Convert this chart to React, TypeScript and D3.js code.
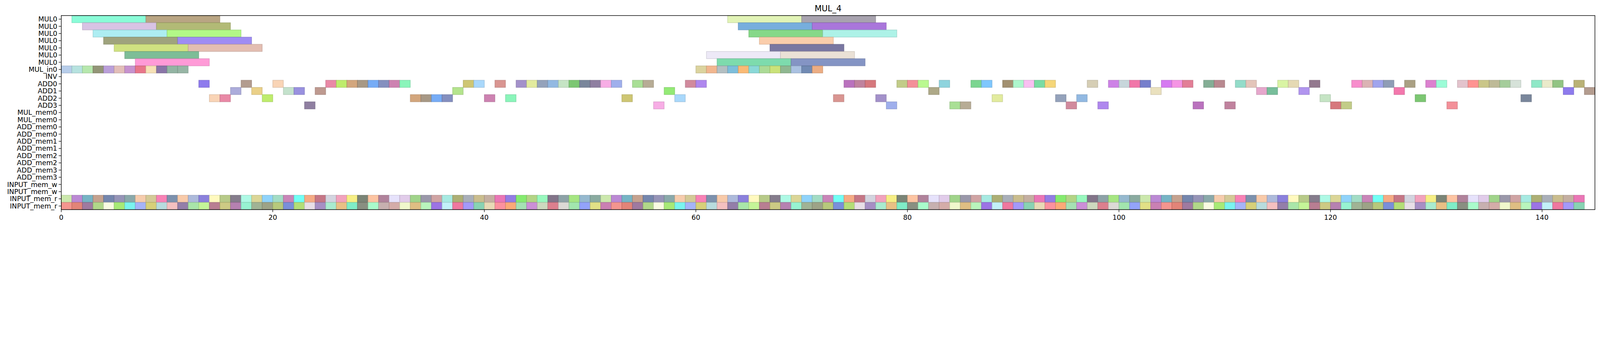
import * as d3 from "d3";

const rowLabels = [
  "MUL0", "MUL0", "MUL0", "MUL0", "MUL0", "MUL0", "MUL0",
  "MUL_in0", "INV", "ADD0", "ADD1", "ADD2", "ADD3",
  "MUL_mem0", "MUL_mem0", "ADD_mem0", "ADD_mem0", "ADD_mem1", "ADD_mem1",
  "ADD_mem2", "ADD_mem2", "ADD_mem3", "ADD_mem3",
  "INPUT_mem_w", "INPUT_mem_w", "INPUT_mem_r", "INPUT_mem_r",
];

// MUL0 ops: start times per row, each op lasts 7 cycles
const mulDuration = 7;
const mulStarts = [
  [1, 8, 63, 70],
  [2, 9, 64, 71],
  [3, 10, 65, 72],
  [4, 11, 66],
  [5, 12, 67],
  [6, 61, 68],
  [7, 62, 69],
];
const mulColors = [
  ["#80fcd5", "#b39d78", "#dff3b0", "#a19ba8"],
  ["#d5bee2", "#abb46a", "#6ba7da", "#a26ad8"],
  ["#a6ebf1", "#abf77d", "#7cd57e", "#a6f1e5"],
  ["#979b72", "#9682f2", "#fac9a4"],
  ["#cce076", "#e1b9ab", "#6e6b99"],
  ["#72b78e", "#ebe7f6", "#e8ded2"],
  ["#ff91d4", "#72d8a6", "#7a8bbf"],
];

const mulIn = [0, 1, 2, 3, 4, 5, 6, 7, 8, 9, 10, 11, 60, 61, 62, 63, 64, 65, 66, 67, 68, 69, 70, 71];
const mulInColors = [
  "#b1c9e8", "#b0e0dc", "#b0e5a6", "#8a8c6b", "#b497d6", "#e0b9b2", "#c189ca", "#e66a80",
  "#f5deb0", "#7f699f", "#8aae9b", "#8eaf9d",
  "#d8cf96", "#f0b086", "#acbabd", "#72b9d8", "#fab469", "#80d5d4", "#a4d78d", "#c5df6e",
  "#86b188", "#a3bcde", "#6580ac", "#eaa678",
];

const add0 = [13, 17, 20, 25, 26, 27, 28, 29, 30, 31, 32, 38, 39, 41, 43, 44, 45, 46, 47, 48, 49, 50, 51, 52, 54, 55, 59, 60,
  74, 75, 76, 79, 80, 81, 83, 86, 87, 89, 90, 91, 92, 93, 97, 99, 100, 101, 102, 104, 105, 106, 108, 109, 111, 112,
  115, 116, 118, 122, 123, 124, 125, 127, 129, 130, 132, 133, 134, 135, 136, 137, 139, 140, 141, 143];
const add1 = [16, 18, 21, 22, 24, 37, 57, 82, 103, 113, 114, 117, 126, 142, 144];
const add2 = [14, 15, 19, 33, 34, 35, 36, 40, 42, 53, 58, 73, 77, 88, 94, 96, 119, 128, 138];
const add3 = [23, 56, 78, 84, 85, 95, 98, 107, 110, 120, 121, 131];

const inputReadSlots = d3.range(0, 144);

const paletteA = [
  "#c8e6a6", "#fff9ba", "#6f7a6a", "#8a72e2", "#8d8bb1", "#87cffa", "#98d080", "#839aa0", "#7188a6", "#c06a7c",
  "#a2a8b3", "#b57fd0", "#b1c67e", "#fdbf9a", "#7be963", "#80a2a3", "#9ad9c0", "#918fa3", "#9ee477", "#f7c6a2",
  "#cfd0dc", "#c5b784", "#6aaec0", "#7b7182", "#a97793", "#acd07b", "#f5c8a6", "#c47bb2", "#cc9c9c", "#8db3cb",
  "#a6b4d8", "#f19ab7", "#bfa899", "#c09a86", "#a7f9e3", "#e4e0fb", "#8ff7b8", "#d0c58e", "#66fff4", "#a0e8df",
  "#80a498", "#8175d9", "#f5ed7a", "#e86ab0", "#687ca6", "#d8d28e", "#dec8e8", "#77687f", "#f777b0", "#f4a47b", "#a6a868",
];
const paletteB = [
  "#f38c86", "#c9c57a", "#c2a9a8", "#c9d6b8", "#d4cc6e", "#e6dce5", "#9c90fa", "#df7a6d", "#b076aa", "#d0a5a1",
  "#d97484", "#b2d9db", "#9e86bf", "#7ecfac", "#976f98", "#8ef2ce", "#eff7c8", "#d9d7d2", "#f4bbbb", "#a2e9cb",
  "#e6d7b0", "#aad57f", "#98ad8c", "#dcb878", "#9ae4a7", "#8a73a2", "#e7bb7b", "#fc8897", "#f8fbdf", "#959b7d",
  "#b3f4b6", "#8a9bfa", "#a2e4a2", "#74ebc2", "#fba26d", "#9fe86a", "#b1c471", "#9468e2", "#e0de7c", "#c0f48f",
  "#7f8676", "#9ddeae", "#6ff3ee", "#6f86d7", "#bdf0f7", "#c575ad", "#b27389", "#a2fbc8", "#c886d4", "#9eaef7",
  "#acdb6b", "#ee6c97",
];
const addPalette = [
  "#8470ec", "#b8b48e", "#d36ef0", "#a87ded", "#6aa5f5", "#a5a5d8", "#d6f39b", "#84d0db", "#9b88c6", "#a7a27e",
  "#a39878", "#f4d26e", "#857499", "#ad9486", "#9dc992", "#f48be2", "#b466b8", "#7a85ba", "#e8cc7e", "#e3d6ae",
  "#70d187", "#dfe996", "#e8deb8", "#d976cb", "#d3caaf", "#f6a6e3", "#f9d0b0", "#d3dfd6", "#df738d", "#bb7796",
  "#c977aa", "#bfe0c8", "#8b6e86", "#74c2fd", "#8b9ab5", "#e4a0c8", "#92fcd4", "#c977e4", "#97a8ea", "#e77f9e",
  "#86e6c2", "#7aa78c", "#d26c72", "#80f4b4", "#9088dc", "#f683c8", "#9a8764", "#89b3e0", "#6cb893", "#e1bec8",
  "#c2d2d8", "#a2dc8c", "#b8ea60", "#e8e8c6", "#b37f87", "#bdc87e", "#cac167", "#b99187", "#d8acae", "#a6f5c8",
  "#c0e2bf", "#aa8cee", "#ff8a88", "#f06aa2", "#b1a58c", "#cf9e72", "#89bf78", "#8ad9c4", "#f28790", "#a2d5fb",
  "#aee283", "#989ceb", "#f8baf0", "#71c266", "#f26ca6", "#c6c17e", "#6a74c8", "#cd8095", "#9f8f7b", "#b4ab6a",
  "#e1c0b4", "#b4f887", "#d68c88", "#8be86a", "#8595b0", "#6fd99b", "#6e7c93",
];

const W = 6348;
const H = 899;
const left = 243;
const right = 6328;
const top = 61.7;
const bottom = 832;
const font = "DejaVu Sans, sans-serif";

type Block = { row: number; start: number; dur: number; color: string };

function buildBlocks(): Block[] {
  const blocks: Block[] = [];
  mulStarts.forEach((starts, r) => {
    starts.forEach((s, i) => blocks.push({ row: r, start: s, dur: mulDuration, color: mulColors[r][i] }));
  });
  mulIn.forEach((s, i) => blocks.push({ row: 7, start: s, dur: 1, color: mulInColors[i] }));
  let k = 0;
  [add0, add1, add2, add3].forEach((list, j) => {
    list.forEach((s) => {
      blocks.push({ row: 9 + j, start: s, dur: 1, color: addPalette[(k * 13) % addPalette.length] });
      k++;
    });
  });
  inputReadSlots.forEach((s, i) => {
    blocks.push({ row: 25, start: s, dur: 1, color: paletteA[(i * 11) % paletteA.length] });
    blocks.push({ row: 26, start: s, dur: 1, color: paletteB[(i * 7) % paletteB.length] });
  });
  return blocks;
}

export default function App() {
  const x = d3.scaleLinear().domain([0, 145]).range([left, right]);
  const y = d3.scaleLinear().domain([0, rowLabels.length]).range([top, bottom]);
  const rowH = y(1) - y(0);
  const blocks = buildBlocks();
  const xTicks = d3.range(0, 141, 20);

  return (
    <svg
      viewBox={`0 0 ${W} ${H}`}
      preserveAspectRatio="xMinYMin meet"
      style={{ position: "absolute", left: 0, top: 0, width: "100vw", height: "auto", display: "block", background: "#fff" }}
    >
      <rect width={W} height={H} fill="#fff" />
      <g>
        {blocks.map((b, i) => {
          const stroke = d3.color(b.color)!.darker(0.6).formatHex();
          return (
            <rect
              key={i}
              x={x(b.start)}
              y={y(b.row)}
              width={x(b.start + b.dur) - x(b.start)}
              height={rowH}
              fill={b.color}
              fillOpacity={0.92}
              stroke={stroke}
              strokeOpacity={0.55}
              strokeWidth={2.5}
            />
          );
        })}
      </g>
      <rect x={left} y={top} width={right - left} height={bottom - top} fill="none" stroke="#000" strokeWidth={2.2} />
      {rowLabels.map((lab, i) => {
        const cy = y(i) + rowH / 2;
        return (
          <g key={i}>
            <line x1={left - 10} x2={left} y1={cy} y2={cy} stroke="#000" strokeWidth={2} />
            <text x={left - 16} y={cy + 9.5} textAnchor="end" fontFamily={font} fontSize={27}>
              {lab}
            </text>
          </g>
        );
      })}
      {xTicks.map((t) => (
        <g key={t}>
          <line x1={x(t)} x2={x(t)} y1={bottom} y2={bottom + 10} stroke="#000" strokeWidth={2} />
          <text x={x(t)} y={bottom + 40} textAnchor="middle" fontFamily={font} fontSize={27}>
            {t}
          </text>
        </g>
      ))}
      <text x={(left + right) / 2} y={45} textAnchor="middle" fontFamily={font} fontSize={32.4}>
        MUL_4
      </text>
    </svg>
  );
}
